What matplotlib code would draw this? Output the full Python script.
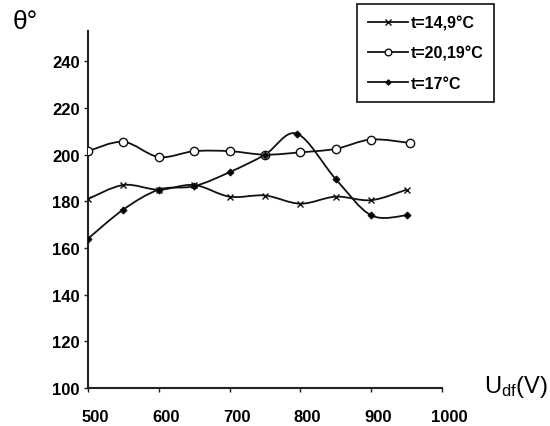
import numpy as np
import matplotlib
matplotlib.use('Agg')
import matplotlib.pyplot as plt
from matplotlib.path import Path
from matplotlib.patches import PathPatch
from matplotlib.lines import Line2D
import matplotlib.transforms as mtransforms

# data
u_149 = [500, 550, 600, 650, 700, 750, 800, 850, 900, 950]
th_149 = [181, 187, 185, 187, 182, 182.5, 179, 182, 180.5, 185]

u_2019 = [500, 550, 600, 650, 700, 750, 800, 850, 900, 955]
th_2019 = [201.5, 205.5, 199, 201.5, 201.5, 200, 201, 202.5, 206.5, 205]

u_17 = [500, 550, 600, 650, 700, 750, 795, 850, 900, 950]
th_17 = [164, 176.5, 185, 186.5, 192.5, 200, 209, 189.5, 174, 174]

labels = ['t=14,9\u00b0C', 't=20,19\u00b0C', 't=17\u00b0C']
xticks = [500, 600, 700, 800, 900, 1000]
yticks = [100, 120, 140, 160, 180, 200, 220, 240]

plt.rcParams['font.family'] = ['Liberation Sans', 'DejaVu Sans']
plt.rcParams['mathtext.default'] = 'regular'


def smooth_path(x, y):
    """Excel-like smoothed line: cubic bezier through the points."""
    p = np.column_stack([x, y]).astype(float)
    ext = np.vstack([p[0], p, p[-1]])
    verts = [p[0]]
    codes = [Path.MOVETO]
    for i in range(len(p) - 1):
        p0, p1, p2, p3 = ext[i], ext[i + 1], ext[i + 2], ext[i + 3]
        verts += [p1 + (p2 - p0) / 6.0, p2 - (p3 - p1) / 6.0, p2]
        codes += [Path.CURVE4] * 3
    return Path(verts, codes)


fig = plt.figure(figsize=(5.5, 4.27), dpi=100)
ax = fig.add_axes([88 / 550, 38 / 427, 354 / 550, 357 / 427])

series = [
    (u_149, th_149, dict(marker='x', markersize=5, mfc='black', mew=1.0)),
    (u_2019, th_2019, dict(marker='o', markersize=6, mfc='white', mew=1.0)),
    (u_17, th_17, dict(marker='D', markersize=3.5, mfc='black', mew=0.8)),
]
handles = []
for xs, ys, mk in series:
    ax.add_patch(PathPatch(smooth_path(xs, ys), fill=False, edgecolor='#111111',
                           lw=1.3, zorder=2))
    ax.plot(xs, ys, linestyle='none', color='#111111', mec='#111111', zorder=3, **mk)
    leg_mk = dict(mk)
    leg_mk['markersize'] = mk['markersize'] * 0.8
    handles.append(Line2D([], [], color='#111111', lw=1.3, mec='#111111', **leg_mk))

ax.set_xlim(500, 1000)
ax.set_ylim(100, 253)
ax.set_xticks(xticks)
ax.set_yticks(yticks)
ax.spines['top'].set_visible(False)
ax.spines['right'].set_visible(False)
for s in ('left', 'bottom'):
    ax.spines[s].set_linewidth(1.5)
    ax.spines[s].set_color('#222222')
ax.tick_params(axis='both', length=3, width=1, color='#222222',
               labelsize=12, labelcolor='black')
ax.tick_params(axis='x', pad=12)
ax.tick_params(axis='y', pad=3)
for lab in ax.get_xticklabels() + ax.get_yticklabels():
    lab.set_fontweight('bold')
shift = mtransforms.ScaledTranslation(7 / 100, 0, fig.dpi_scale_trans)
for lab in ax.get_xticklabels():
    lab.set_transform(lab.get_transform() + shift)

fig.text(13 / 550, 1 - 22 / 427, '\u03b8\u00b0', fontsize=19, va='center', ha='left')
fig.text(548 / 550, 1 - 387 / 427, 'U$_{df}$(V)', fontsize=17, va='center', ha='right')

leg = fig.legend(handles, labels, loc='upper left',
                 bbox_to_anchor=(357 / 550, 1 - 5 / 427), bbox_transform=fig.transFigure,
                 borderaxespad=0, fancybox=False, edgecolor='#222222', framealpha=1,
                 prop=dict(weight='bold', size=11.5), handlelength=2.5,
                 handletextpad=0.15, labelspacing=0.95, borderpad=0.7)
leg.get_frame().set_linewidth(1.3)

fig.savefig('out.png', dpi=100)
